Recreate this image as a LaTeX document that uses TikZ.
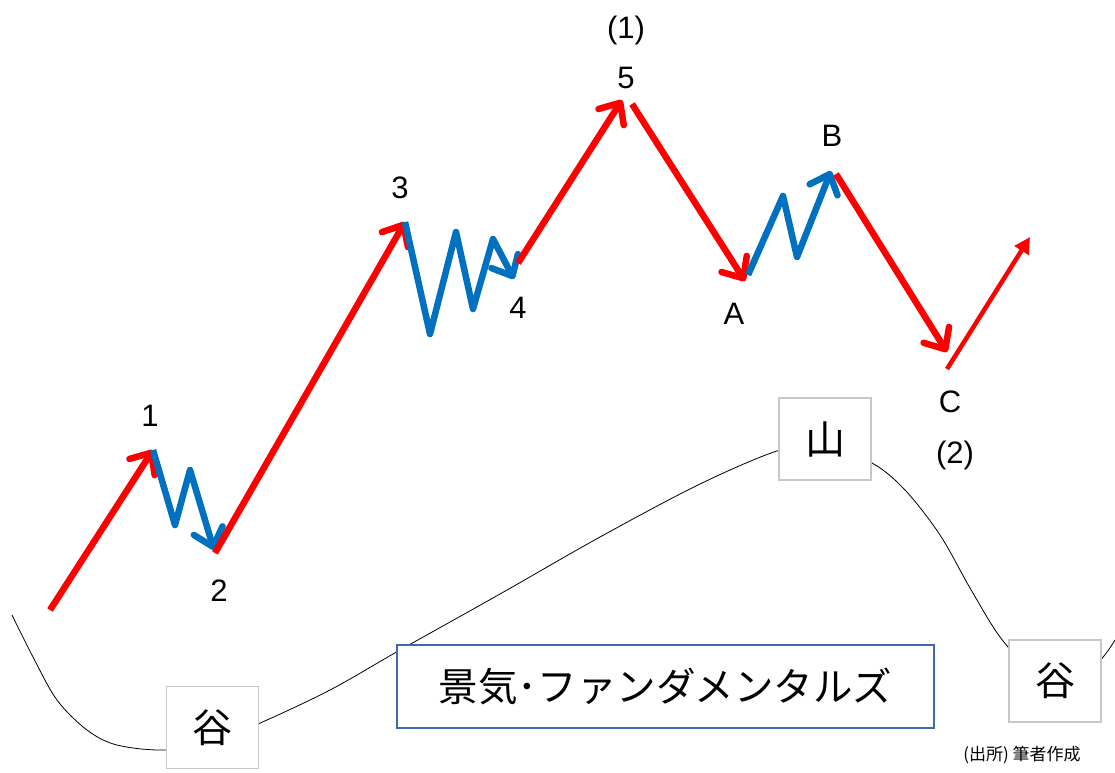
\documentclass[tikz,border=0pt]{standalone}
\usepackage{fontspec}
\setmainfont{Liberation Sans}
\newfontfamily\jp{Noto Sans CJK JP}
\usetikzlibrary{arrows.meta}
\definecolor{wred}{RGB}{255,0,0}
\definecolor{wblue}{RGB}{0,112,192}
\definecolor{boxgray}{RGB}{200,200,200}
\definecolor{boxblue}{RGB}{65,105,175}
\begin{document}
\begin{tikzpicture}[x=1pt,y=-1pt,
  redarrow/.style={draw=wred,line width=6.5pt,line join=round,-{Straight Barb[length=17pt,width=30pt,round]}},
  bluearrow/.style={draw=wblue,line width=6.5pt,line join=round,-{Straight Barb[length=17pt,width=30pt,round]}},
  thinarrow/.style={draw=wred,line width=4.5pt,-{Triangle[length=16pt,width=16pt]}},
  lbl/.style={font=\fontsize{31}{31}\selectfont,inner sep=0pt},
  phase/.style={draw=boxgray,line width=1.2pt,fill=white,minimum width=92pt,minimum height=82pt,inner sep=0pt,font=\jp\fontsize{40}{40}\selectfont},
  fundbox/.style={draw=boxblue,line width=1.2pt,fill=white,minimum width=537pt,minimum height=83pt,inner sep=0pt,font=\jp\fontsize{39.5}{40}\selectfont},
  curve/.style={draw=black,line width=0.8pt}]
\useasboundingbox (0,0) rectangle (1115,772);
% cycle curve
\draw[curve] plot[smooth,tension=0.55] coordinates {(12,615) (33,657) (57,700) (87,730) (117,745) (165,750) (212,742) (258,724) (330,690) (400,650) (500,594) (600,537) (700,484) (780,450) (825,446) (872,463) (905,490) (940,535) (970,588) (1000,637) (1030,668) (1060,676) (1095,665) (1115,640)};
% boxes
\node[phase] (valL) at (212.5,727.5) {谷};
\node[phase] (peak) at (825,439) {山};
\node[phase] (valR) at (1055,681) {谷};
\node[fundbox] (fund) at (665.5,686.5) {景気･ファンダメンタルズ};
\node[font=\jp\fontsize{17}{17}\selectfont,inner sep=0pt] (src) at (1022,755) {(出所) 筆者作成};
% wave points
\coordinate (w0) at (50,610);
\coordinate (w1) at (153,450);
\coordinate (b1a) at (175,525);
\coordinate (b1b) at (190,470);
\coordinate (w2) at (214,550);
\coordinate (w2s) at (215,553);
\coordinate (w3) at (405,222);
\coordinate (b3a) at (430,334);
\coordinate (b3b) at (456,232);
\coordinate (b3c) at (473,309);
\coordinate (b3d) at (493,239);
\coordinate (w4) at (514,279);
\coordinate (w4s) at (518,263);
\coordinate (w5) at (622,100);
\coordinate (w5s) at (632,104);
\coordinate (wA) at (745,281);
\coordinate (wAs) at (748,275);
\coordinate (bAa) at (783,196);
\coordinate (bAb) at (797,257);
\coordinate (wB) at (831,171);
\coordinate (wBs) at (836,174);
\coordinate (wC) at (947,352);
\coordinate (wCs) at (947,369);
\coordinate (wE) at (1030,237);
% waves
\draw[redarrow] (w0) -- (w1);
\draw[bluearrow] (w1) -- (b1a) -- (b1b) -- (w2);
\draw[redarrow] (w2s) -- (w3);
\draw[bluearrow] (w3) -- (b3a) -- (b3b) -- (b3c) -- (b3d) -- (w4);
\draw[redarrow] (w4s) -- (w5);
\draw[redarrow] (w5s) -- (wA);
\draw[bluearrow] (wAs) -- (bAa) -- (bAb) -- (wB);
\draw[redarrow] (wBs) -- (wC);
\draw[thinarrow] (wCs) -- (wE);
% labels
\node[lbl] (l1) at (150,416) {1};
\node[lbl] (l2) at (219,591) {2};
\node[lbl] (l3) at (400,188) {3};
\node[lbl] (l4) at (518,308) {4};
\node[lbl] (l1p) at (626,30) {(1)};
\node[lbl] (l5) at (626,78) {5};
\node[lbl] (lA) at (734,314) {A};
\node[lbl] (lB) at (832,136) {B};
\node[lbl] (lC) at (950,402) {C};
\node[lbl] (l2p) at (955,455) {(2)};
\end{tikzpicture}
\end{document}
